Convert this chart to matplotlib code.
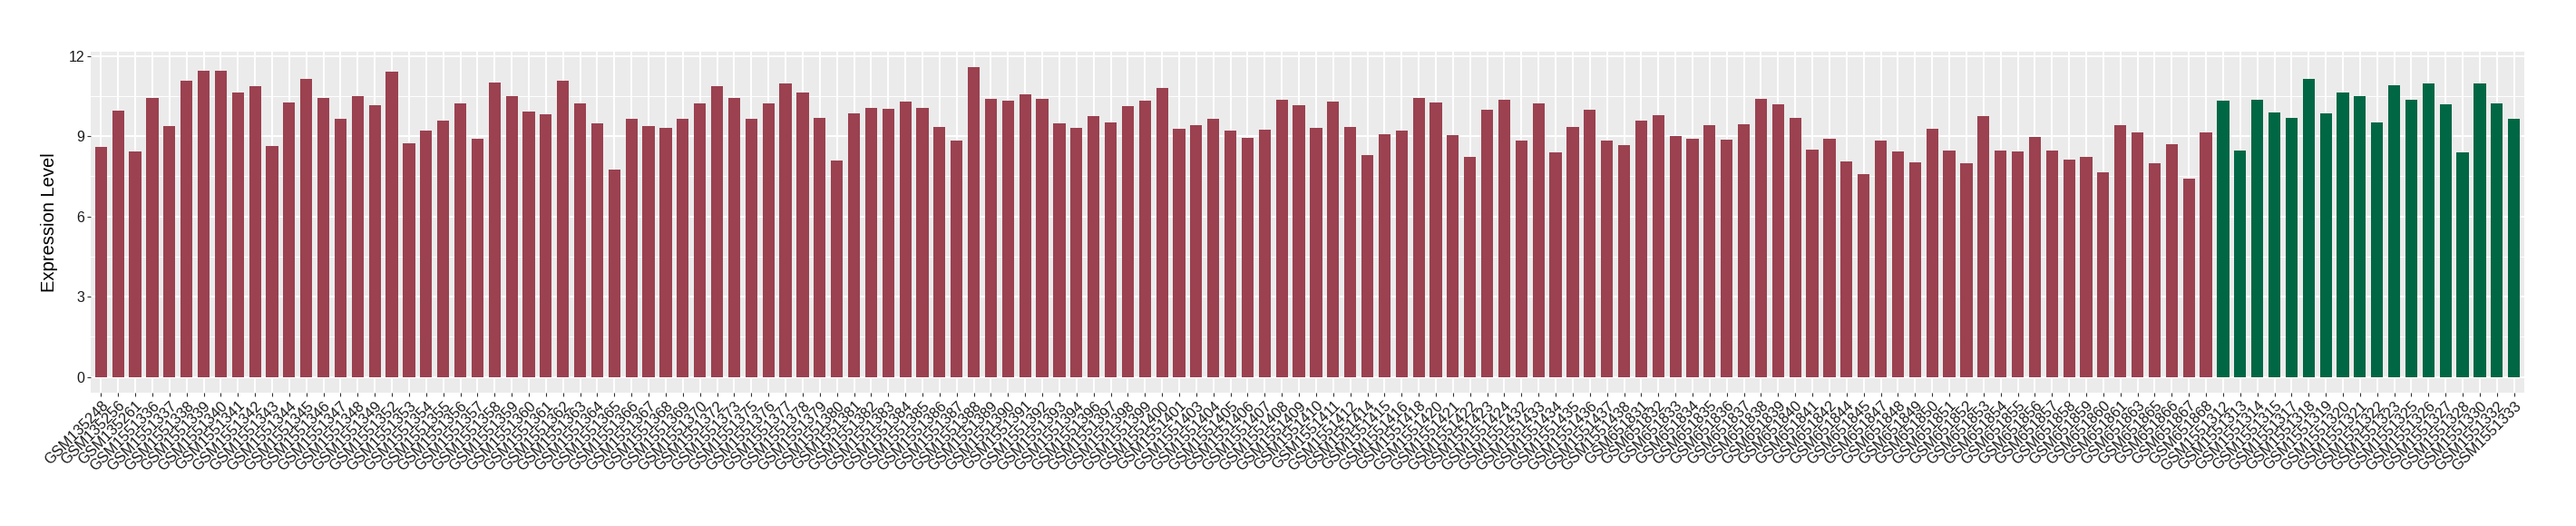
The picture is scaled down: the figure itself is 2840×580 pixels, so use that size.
import numpy as np
import matplotlib
matplotlib.use('Agg')
import matplotlib.pyplot as plt


###############################
# Data
###############################
samples_a = [
    'GSM135248', 'GSM135256', 'GSM135261',
    'GSM1551336', 'GSM1551337', 'GSM1551338', 'GSM1551339', 'GSM1551340',
    'GSM1551341', 'GSM1551342', 'GSM1551343', 'GSM1551344', 'GSM1551345',
    'GSM1551346', 'GSM1551347', 'GSM1551348', 'GSM1551349', 'GSM1551352',
    'GSM1551353', 'GSM1551354', 'GSM1551355', 'GSM1551356', 'GSM1551357',
    'GSM1551358', 'GSM1551359', 'GSM1551360', 'GSM1551361', 'GSM1551362',
    'GSM1551363', 'GSM1551364', 'GSM1551365', 'GSM1551366', 'GSM1551367',
    'GSM1551368', 'GSM1551369', 'GSM1551370', 'GSM1551372', 'GSM1551373',
    'GSM1551375', 'GSM1551376', 'GSM1551377', 'GSM1551378', 'GSM1551379',
    'GSM1551380', 'GSM1551381', 'GSM1551382', 'GSM1551383', 'GSM1551384',
    'GSM1551385', 'GSM1551386', 'GSM1551387', 'GSM1551388', 'GSM1551389',
    'GSM1551390', 'GSM1551391', 'GSM1551392', 'GSM1551393', 'GSM1551394',
    'GSM1551396', 'GSM1551397', 'GSM1551398', 'GSM1551399', 'GSM1551400',
    'GSM1551401', 'GSM1551403', 'GSM1551404', 'GSM1551405', 'GSM1551406',
    'GSM1551407', 'GSM1551408', 'GSM1551409', 'GSM1551410', 'GSM1551411',
    'GSM1551412', 'GSM1551414', 'GSM1551415', 'GSM1551416', 'GSM1551418',
    'GSM1551420', 'GSM1551421', 'GSM1551422', 'GSM1551423', 'GSM1551424',
    'GSM1551432', 'GSM1551433', 'GSM1551434', 'GSM1551435', 'GSM1551436',
    'GSM1551437', 'GSM1551438',
    'GSM651831', 'GSM651832', 'GSM651833', 'GSM651834', 'GSM651835',
    'GSM651836', 'GSM651837', 'GSM651838', 'GSM651839', 'GSM651840',
    'GSM651841', 'GSM651842', 'GSM651844', 'GSM651845', 'GSM651847',
    'GSM651848', 'GSM651849', 'GSM651850', 'GSM651851', 'GSM651852',
    'GSM651853', 'GSM651854', 'GSM651855', 'GSM651856', 'GSM651857',
    'GSM651858', 'GSM651859', 'GSM651860', 'GSM651861', 'GSM651863',
    'GSM651865', 'GSM651866', 'GSM651867', 'GSM651868',
]
values_a = [
    8.59, 9.95, 8.42, 10.43, 9.38, 11.08, 11.45, 11.45, 10.64, 10.88,
    8.63, 10.26, 11.15, 10.43, 9.65, 10.50, 10.16, 11.42, 8.73, 9.20,
    9.58, 10.23, 8.90, 11.01, 10.50, 9.92, 9.82, 11.08, 10.23, 9.48,
    7.74, 9.65, 9.38, 9.31, 9.65, 10.23, 10.88, 10.43, 9.65, 10.23,
    10.98, 10.64, 9.68, 8.08, 9.85, 10.06, 10.02, 10.30, 10.06, 9.34,
    8.83, 11.59, 10.40, 10.33, 10.57, 10.40, 9.48, 9.31, 9.75, 9.51,
    10.13, 10.33, 10.81, 9.27, 9.41, 9.65, 9.20, 8.93, 9.24, 10.36,
    10.16, 9.31, 10.30, 9.34, 8.28, 9.07, 9.20, 10.43, 10.26, 9.03,
    8.22, 9.99, 10.36, 8.83, 10.23, 8.39, 9.34, 9.99, 8.83, 8.66,
    9.58, 9.78, 9.00, 8.90, 9.41, 8.86, 9.44, 10.40, 10.19, 9.68,
    8.49, 8.90, 8.05, 7.57, 8.83, 8.42, 8.01, 9.27, 8.45, 7.98,
    9.75, 8.45, 8.42, 8.97, 8.45, 8.11, 8.22, 7.64, 9.41, 9.14,
    7.98, 8.69, 7.40, 9.14,
]

samples_b = [
    'GSM1551312', 'GSM1551313', 'GSM1551314', 'GSM1551315', 'GSM1551317',
    'GSM1551318', 'GSM1551319', 'GSM1551320', 'GSM1551321', 'GSM1551322',
    'GSM1551323', 'GSM1551325', 'GSM1551326', 'GSM1551327', 'GSM1551328',
    'GSM1551330', 'GSM1551332', 'GSM1551333',
]
values_b = [
    10.33, 8.45, 10.36, 9.89, 9.68, 11.15, 9.85, 10.64, 10.50, 9.51,
    10.91, 10.36, 10.98, 10.19, 8.39, 10.98, 10.23, 9.65,
]

y_ticks = [0, 3, 6, 9, 12]

color_a = '#9B4150'
color_b = '#006744'


###############################
# Plot
###############################
def main():
    plt.rcParams['font.family'] = ['Liberation Sans', 'DejaVu Sans']

    labels = samples_a + samples_b
    values = values_a + values_b
    colors = [color_a] * len(values_a) + [color_b] * len(values_b)
    x = np.arange(len(labels))

    fig = plt.figure(figsize=(28.4, 5.8), dpi=100)
    ax = fig.add_axes([100 / 2840, 1 - 432.7 / 580, 2683 / 2840, 376 / 580])
    ax.set_facecolor('#EBEBEB')

    ymax = max(values)
    ax.set_ylim(-0.05 * ymax, 1.05 * ymax)
    ax.set_xlim(-0.6, len(labels) - 1 + 0.6)

    # ggplot-like grid
    for y in y_ticks:
        ax.axhline(y, color='white', lw=1.4, zorder=0)
    for y in np.array(y_ticks[:-1]) + 1.5:
        ax.axhline(y, color='white', lw=0.7, zorder=0)
    for xi in x:
        ax.axvline(xi, color='white', lw=1.4, zorder=0)

    ax.bar(x, values, width=0.7, color=colors, zorder=2)

    ax.set_yticks(y_ticks)
    ax.set_yticklabels([str(t) for t in y_ticks], fontsize=11.5, color='#1a1a1a')
    ax.set_xticks(x)
    ax.set_xticklabels(labels, rotation=45, ha='right', va='top',
                       rotation_mode='anchor', fontsize=11.8, color='#1a1a1a')
    ax.tick_params(axis='both', length=3, width=0.8, color='#333333', pad=2)

    for s in ax.spines.values():
        s.set_visible(False)

    ax.set_ylabel('Expression Level', fontsize=14.5, labelpad=8)

    fig.savefig('out.png', dpi=100, facecolor='white')


if __name__ == '__main__':
    main()
